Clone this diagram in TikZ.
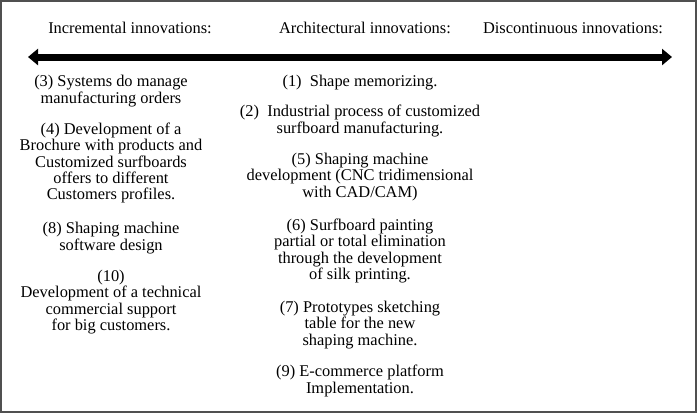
\documentclass[tikz,border=0pt]{standalone}
\usepackage{fontspec}
\setmainfont{Liberation Serif}
\usepackage{tikz}
\usetikzlibrary{arrows.meta, positioning}
\definecolor{framegray}{HTML}{505050}

\begin{document}
\begin{tikzpicture}[x=1bp, y=-1bp,
  header/.style={inner sep=0pt, font=\fontsize{16.4bp}{16.2bp}\selectfont},
  colitem/.style={align=center, inner sep=0pt, font=\fontsize{16.4bp}{16.2bp}\selectfont}]
  \useasboundingbox (0,0) rectangle (700,414);

  % Frame
  \draw[framegray, line width=1.5bp] (1,1) rectangle (696,412);

  % Headers
  \node[header] (incr) at (130,28) {Incremental innovations:};
  \node[header] (arch) at (365,28) {Architectural innovations:};
  \node[header] (disc) at (573,28) {Discontinuous innovations:};

  % Double-headed axis
  \coordinate (axisL) at (28,57);
  \coordinate (axisR) at (672,57);
  \draw[line width=7bp, {Triangle[length=10bp,width=16bp]}-{Triangle[length=10bp,width=16bp]}] (axisL) -- (axisR);

  % Incremental column
  \node[colitem] (sys) at (111,91) {(3) Systems do manage\\manufacturing orders};
  \node[colitem] (broch) at (111,163) {(4) Development of a\\Brochure with products and\\Customized surfboards\\offers to different\\Customers profiles.};
  \node[colitem] (soft) at (111,238) {(8) Shaping machine\\software design};
  \node[colitem] (tech) at (111,302) {(10)\\Development of a technical\\commercial support\\for big customers.};

  % Architectural column
  \node[colitem] (shape) at (360,83) {(1)\enspace Shape memorizing.};
  \node[colitem] (proc) at (360,121) {(2)\enspace Industrial process of customized\\surfboard manufacturing.};
  \node[colitem] (cnc) at (360,177) {(5) Shaping machine\\development (CNC tridimensional\\with CAD/CAM)};
  \node[colitem] (paint) at (360,251) {(6) Surfboard painting\\partial or total elimination\\through the development\\of silk printing.};
  \node[colitem] (proto) at (360,325) {(7) Prototypes sketching\\table for the new\\shaping machine.};
  \node[colitem] (ecom) at (360,381) {(9) E-commerce platform\\Implementation.};
\end{tikzpicture}
\end{document}
